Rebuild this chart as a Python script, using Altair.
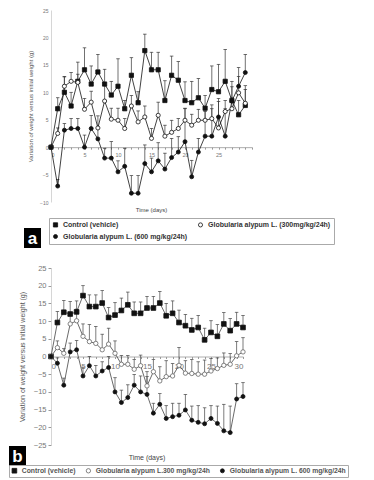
import altair as alt
import pandas as pd

# ---------------- data ----------------
days_a = list(range(30))
series_a = ["Control (vehicle)",
            "Globularia alypum L. (300mg/kg/24h)",
            "Globularia alypum L. (600 mg/kg/24h)"]
ctrl_a = [0, 7.0, 10.0, 7.5, 12.0, 14.1, 11.5, 13.7, 11.5, 9.5, 11.1, 7.0, 13.1, 8.1, 17.6,
          14.1, 14.1, 8.5, 13.1, 12.2, 8.5, 8.1, 9.0, 7.1, 10.5, 10.1, 12.0, 8.5, 5.9, 7.6]
ctrl_a_err = [0, 2.0, 2.8, 2.5, 3.5, 4.0, 3.3, 3.2, 2.7, 2.5, 5.0, 1.5, 3.2, 2.0, 3.0,
              3.2, 3.2, 3.6, 3.5, 3.4, 3.4, 3.9, 3.5, 2.3, 4.3, 5.0, 5.8, 2.5, 2.6, 3.6]
g300_a = [0, 2.5, 11.1, 12.0, 11.8, 6.9, 8.2, 3.5, 8.4, 5.1, 4.9, 3.4, 7.5, 4.6, 5.5,
          1.6, 5.8, 2.0, 2.7, 3.4, 4.9, 4.0, 4.9, 4.9, 5.2, 3.5, 6.5, 7.0, 9.9, 8.0]
g300_a_err = [0, 1.0, 1.8, 1.6, 1.5, 2.0, 2.0, 2.2, 2.8, 2.0, 2.2, 1.8, 1.9, 2.0, 2.0,
              1.8, 2.4, 2.0, 2.2, 1.8, 2.2, 2.0, 2.0, 2.0, 2.5, 4.8, 2.0, 2.0, 3.0, 2.5]
g600_a = [0, -7.1, 3.1, 3.4, 3.4, 0.0, 3.4, 1.5, -2.0, -2.0, -4.5, -3.5, -8.4, -8.4, -3.0,
          -4.5, -2.5, -4.0, -1.9, -0.9, 1.0, -5.4, -0.9, 2.0, 2.0, 5.5, 2.0, 8.4, 11.1, 13.6]
g600_a_err = [0, 1.2, 1.2, 1.8, 1.8, 2.2, 2.4, 2.0, 1.8, 3.0, 2.0, 3.3, 3.2, 3.2, 3.4,
              2.5, 3.3, 2.9, 3.5, 2.8, 6.0, 3.0, 2.5, 4.5, 5.0, 3.4, 5.0, 3.6, 3.4, 3.3]

days_b = list(range(31))
series_b = ["Control (vehicle)",
            "Globularia alypum L.300 mg/kg/24h",
            "Globularia alypum L. 600 mg/kg/24h"]
ctrl_b = [0, 9.6, 12.5, 12.0, 12.6, 17.2, 14.1, 14.1, 15.1, 11.0, 11.7, 13.0, 14.6, 12.2, 12.2,
          13.7, 13.7, 15.1, 11.5, 12.2, 9.6, 8.7, 7.5, 8.2, 4.7, 6.8, 5.7, 9.2, 7.3, 9.2, 8.2]
ctrl_b_err = [0, 3.1, 3.3, 3.5, 3.1, 2.8, 3.3, 3.3, 3.5, 2.8, 3.5, 3.5, 3.6, 3.2, 3.2,
              3.3, 3.3, 3.3, 3.5, 3.5, 3.5, 3.2, 3.3, 3.4, 3.3, 3.3, 3.3, 3.2, 3.4, 3.3, 3.4]
g300_b = [0, 2.5, 0.9, 9.2, 10.1, 5.7, 4.2, 3.7, 1.9, 3.5, 0.9, -2.2, -2.2, -3.6, -2.6,
          -8.3, -4.3, -6.9, -5.7, -5.5, -2.5, -4.7, -4.8, -5.0, -5.0, -4.1, -3.4, -2.5, -2.2, 0.2, 1.3]
g300_b_err = [0, 1.9, 1.3, 3.0, 3.3, 3.5, 4.8, 4.8, 4.4, 4.5, 3.5, 2.5, 2.5, 2.8, 3.0,
              4.0, 3.5, 4.0, 4.5, 3.5, 5.0, 3.5, 4.0, 3.5, 4.0, 3.5, 3.0, 3.5, 3.0, 4.0, 4.0]
g600_b = [0, -1.9, -8.1, 1.3, 1.9, -5.5, -2.6, -5.5, -4.1, -3.1, -10.0, -13.0, -11.6, -8.1, -10.0,
          -10.7, -16.0, -13.5, -17.5, -17.0, -16.6, -15.1, -18.0, -18.6, -19.0, -17.5, -18.9, -21.0,
          -21.5, -12.0, -11.3]
g600_b_err = [0, 1.5, 2.0, 2.5, 2.6, 2.5, 2.6, 3.0, 2.6, 3.1, 4.0, 3.5, 3.6, 3.0, 4.5,
              5.0, 2.8, 3.0, 3.6, 3.8, 3.4, 4.4, 4.0, 4.7, 4.5, 3.6, 4.9, 7.5, 7.5, 4.3, 3.9]

y_ticks = [-25, -20, -15, -10, -5, 0, 5, 10, 15, 20, 25]
y_title = "Variation of weight versus initial weight (g)"
x_title = "Time (days)"
FONT = "Liberation Sans"


def long_table(days, names, vals, errs):
    rows = []
    for n, v, e in zip(names, vals, errs):
        for d, y, s in zip(days, v, e):
            rows.append({"day": d, "series": n, "value": y, "top": y + s})
    return pd.DataFrame(rows)


def panel(df, names, W, H, ymin, ymax, sty, tag):
    zero_off = -H * (0 - ymin) / (ymax - ymin)
    xs = alt.Scale(domain=[0, 30], nice=False, zero=False)
    ys = alt.Scale(domain=[ymin, ymax], nice=False, zero=False)
    xaxis = alt.Axis(values=list(range(31)), labelExpr=sty["xlabel"],
                     offset=zero_off, grid=False, tickSize=2, tickColor="#999",
                     domainColor="#999", domainWidth=0.8, labelFontSize=sty["xfs"],
                     labelColor="#777", labelPadding=sty["xlp"], labelFont=FONT, title=None)
    yaxis = alt.Axis(values=[v for v in y_ticks if ymin <= v <= ymax], grid=False,
                     ticks=sty["yticks"], tickSize=3, tickColor="#999",
                     domainColor="#ccc", domainWidth=0.8,
                     labelFontSize=sty["yfs"], labelColor="#777", labelFont=FONT,
                     labelPadding=sty["ylp"], title=y_title, titleFont=FONT,
                     titleFontSize=sty["ytfs"], titleFontWeight="normal",
                     titleColor="#555", titlePadding=sty["ytp"])
    X = alt.X("day:Q", scale=xs, axis=xaxis)
    Y = alt.Y("value:Q", scale=ys, axis=yaxis)

    base = alt.Chart(df)
    err = base.mark_rule(color=sty["err"], strokeWidth=0.7).encode(
        x=X, y=Y, y2="top:Q")
    cap = base.mark_tick(orient="horizontal", color=sty["err"], size=3.5,
                         thickness=0.7, opacity=1).encode(
        x=X, y=alt.Y("top:Q", scale=ys, axis=yaxis))
    line = base.mark_line(color=sty["line"], strokeWidth=0.8).encode(
        x=X, y=Y, detail="series:N", order="day:Q")

    leg = alt.Legend(orient="none", legendX=sty["legx"], legendY=H + sty["legy"],
                     columns=sty["cols"], direction="horizontal", title=None,
                     labelFont=FONT, labelFontSize=sty["lfs"], labelFontWeight=sty["lfw"],
                     labelColor=sty["lcol"], strokeColor="#aaa", padding=sty["lpad"],
                     columnPadding=sty["colpad"], rowPadding=3, labelLimit=400,
                     symbolStrokeColor="#111", symbolStrokeWidth=0.8, symbolOffset=0,
                     labelOffset=4)
    pts = base.mark_point(strokeWidth=0.8, opacity=1).encode(
        x=X, y=Y,
        shape=alt.Shape("series:N", scale=alt.Scale(domain=names,
                        range=["square", "circle", "circle"]), legend=leg),
        fill=alt.Fill("series:N", scale=alt.Scale(domain=names,
                      range=["#111", "white", "#111"]), legend=leg),
        size=alt.Size("series:N", scale=alt.Scale(domain=names,
                      range=sty["sizes"]), legend=leg),
        stroke=alt.Stroke("series:N", scale=alt.Scale(domain=names,
                          range=sty["strokes"]), legend=leg),
    )

    tagdf = pd.DataFrame({"t": [tag], "xt": [x_title]})
    box = alt.Chart(tagdf).mark_rect(color="black").encode(
        x=alt.value(sty["boxx"]), x2=alt.value(sty["boxx"] + 17),
        y=alt.value(H + sty["boxy"]), y2=alt.value(H + sty["boxy"] + 20))
    lab = alt.Chart(tagdf).mark_text(color="white", fontSize=17, font=FONT,
                                     fontWeight="bold").encode(
        x=alt.value(sty["boxx"] + 8.5), y=alt.value(H + sty["boxy"] + 10.5), text="t:N")
    xt = alt.Chart(tagdf).mark_text(color="#444", fontSize=sty["xtfs"], font=FONT,
                                    baseline="middle").encode(
        x=alt.value(W / 2), y=alt.value(H + sty["xtoff"]), text="xt:N")

    return alt.layer(err, cap, line, pts, box, lab, xt).properties(width=W, height=H)


df_a = long_table(days_a, series_a, [ctrl_a, g300_a, g600_a], [ctrl_a_err, g300_a_err, g600_a_err])
df_b = long_table(days_b, series_b, [ctrl_b, g300_b, g600_b], [ctrl_b_err, g300_b_err, g600_b_err])

sty_a = dict(xlabel="datum.value % 5 == 0 && datum.value < 30 ? datum.label : ''",
             xfs=5.5, xlp=3, yticks=False, yfs=5, ylp=3, ytfs=6, ytp=6,
             err="#333", line="#111", legx=-2, legy=16, cols=2, lfs=7, lfw="bold",
             lcol="#333", lpad=3, colpad=8, sizes=[18, 16, 11],
             strokes=["#111", "#111", "#111"],
             boxx=-27, boxy=26, xtfs=6, xtoff=8)
sty_b = dict(xlabel="datum.value % 5 == 0 ? datum.label : ''",
             xfs=8, xlp=4, yticks=True, yfs=7.5, ylp=2, ytfs=7, ytp=8,
             err="#444", line="#444", legx=-42, legy=20, cols=3, lfs=6.8, lfw="bold",
             lcol="#555", lpad=2, colpad=8, sizes=[22, 16, 11],
             strokes=["#111", "#666", "#111"],
             boxx=-42, boxy=1, xtfs=7, xtoff=13)

pa = panel(df_a, series_a, 201, 192, -10, 25, sty_a, "a")
pb = panel(df_b, series_b, 192, 177, -25, 25, sty_b, "b")

chart = alt.concat(pa, pb, columns=1, spacing=16, align="none").resolve_scale(
    x="independent", y="independent", shape="independent", fill="independent",
    size="independent", stroke="independent").configure_view(stroke=None).properties(
    padding=0, background="white")

chart.save("out.html", embed_options={"renderer": "svg", "actions": False})
